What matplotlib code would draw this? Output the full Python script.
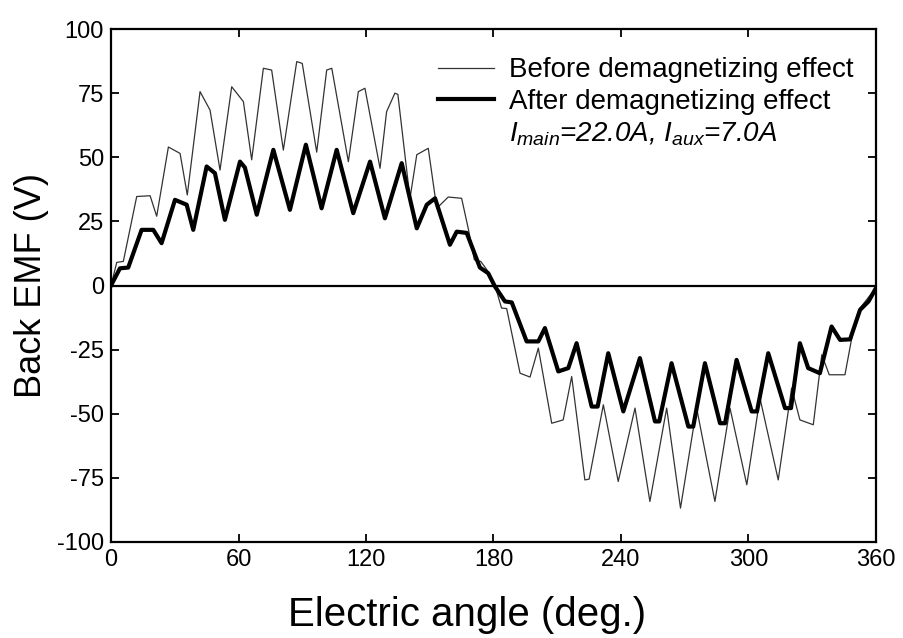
import matplotlib
matplotlib.use("Agg")
import matplotlib.pyplot as plt
from matplotlib.lines import Line2D

plt.rcParams['font.family'] = ['Liberation Sans', 'DejaVu Sans']
plt.rcParams['mathtext.fontset'] = 'custom'
plt.rcParams['mathtext.rm'] = 'Liberation Sans'
plt.rcParams['mathtext.it'] = 'Liberation Sans:italic'
plt.rcParams['axes.unicode_minus'] = False

# before demagnetizing effect (thin line)
before_angle = [0, 2.7, 5.8, 12.1, 18.4, 21.5, 27, 32.5, 35.9, 41.9, 46.6, 51.3,
                56.8, 62.3, 66.2, 71.7, 75.6, 81.1, 87.4, 90, 96.8, 101.5, 103.9,
                111.7, 116.4, 119.5, 126.6, 129.7, 133.6, 135, 140.7, 143.9, 149.3,
                153.3, 158.7, 165, 168.1, 171, 174, 177, 180.7, 183.8, 186.2, 192.5,
                197.2, 201.1, 207.4, 212.8, 216.8, 223, 225, 231.7, 238.7, 246.6,
                253.6, 261.5, 268, 275.6, 284.2, 291.3, 299.2, 305.4, 314, 320.3,
                324.2, 330.5, 334.5, 338, 345.4, 348.6, 352.5, 358.7, 360]
before_emf = [0, 9, 9.4, 34.7, 35, 27, 54, 51.5, 35.3, 75.6, 68.4, 45,
              77.5, 71.7, 49, 84.7, 84, 52.8, 87.3, 86.6, 52, 84, 84.7,
              48.3, 75.6, 76.9, 45.7, 67.8, 75, 74.5, 34, 51, 53.5,
              30.1, 34.5, 34, 22.3, 10, 9.4, 6, 0, -8.8, -9, -34.2,
              -35.7, -24.4, -53.7, -52.4, -35.5, -75.8, -75.5, -46.5, -76.4, -47.8,
              -84.2, -47.8, -86.8, -47.8, -84.2, -47.8, -77.7, -43.9, -75.8, -40,
              -52.4, -54.3, -27, -34.8, -34.8, -20.5, -8.8, -2.3, 0]

# after demagnetizing effect (thick line)
after_angle = [0, 4.2, 8.1, 14.4, 19.9, 23.8, 30.1, 35.6, 38.7, 45, 48.9, 53.6,
               60.7, 63, 68.6, 76.4, 84.2, 91.7, 99.1, 106.2, 114, 121.9, 128.9,
               136.8, 143.9, 148.6, 152.5, 159.5, 162.7, 167.4, 173.6, 177.5, 180.7,
               185.4, 188.6, 195.6, 201.1, 204.2, 210.5, 215.2, 219.1, 226.2, 229,
               234, 241.1, 248.9, 256, 258, 263.8, 271.7, 274, 279.5, 286.6, 289,
               294.4, 301.5, 304, 309.3, 317.2, 320, 324.2, 328.1, 333.6, 339.1,
               343.1, 347.8, 352.5, 356.5, 360]
after_emf = [0, 6.7, 7, 21.7, 21.7, 16.5, 33.4, 31.5, 21.7, 46.4, 43.8, 25.6,
             48.3, 46, 27.6, 52.9, 29.5, 54.9, 30.1, 52.9, 28.2, 48.3, 26.2,
             47.7, 22.3, 31.5, 34, 15.9, 21, 20.5, 7, 4.8, -0.4,
             -6.2, -6.6, -21.8, -21.8, -16.6, -33.5, -32.2, -22.5, -47.2, -47.2,
             -26.4, -49.1, -28.3, -53, -53, -30.3, -55, -55, -30.3, -53.7, -53.7,
             -29, -49.1, -49.1, -26.4, -47.8, -47.8, -22.5, -32.2, -34.2, -16,
             -21.2, -21, -9.5, -6.2, -1]

x_ticks = [0, 60, 120, 180, 240, 300, 360]
y_ticks = [-100, -75, -50, -25, 0, 25, 50, 75, 100]
condition_label = r'$I_{main}$=22.0A, $I_{aux}$=7.0A'

fig = plt.figure(figsize=(9.04, 6.38), dpi=100)
ax = fig.add_axes([0.1228, 0.1505, 0.8462, 0.804])

ax.axhline(0, color='black', lw=1.6, zorder=1)
ax.plot(before_angle, before_emf, color='#333333', lw=0.9,
        label='Before demagnetizing effect')
ax.plot(after_angle, after_emf, color='black', lw=3.0,
        label='After demagnetizing effect')

ax.set_xlim(0, 360)
ax.set_ylim(-100, 100)
ax.set_xticks(x_ticks)
ax.set_yticks(y_ticks)
ax.tick_params(direction='in', length=6, width=1.3, labelsize=17,
               top=True, right=True, pad=5)
for s in ax.spines.values():
    s.set_linewidth(1.6)

ax.set_xlabel('Electric angle (deg.)', fontsize=29)
ax.xaxis.set_label_coords(0.465, -0.105, transform=ax.transAxes)
ax.set_ylabel('Back EMF (V)', fontsize=26, labelpad=6)

handles, labels = ax.get_legend_handles_labels()
handles.append(Line2D([], [], color='none'))
labels.append(condition_label)
leg = ax.legend(handles, labels, loc='upper left', bbox_to_anchor=(0.4275, 0.945),
                frameon=False, fontsize=20, handlelength=2.0, handletextpad=0.55,
                labelspacing=0.2, borderpad=0, borderaxespad=0)
leg.get_texts()[2].set_fontstyle('italic')

fig.savefig('out.png', dpi=100)
